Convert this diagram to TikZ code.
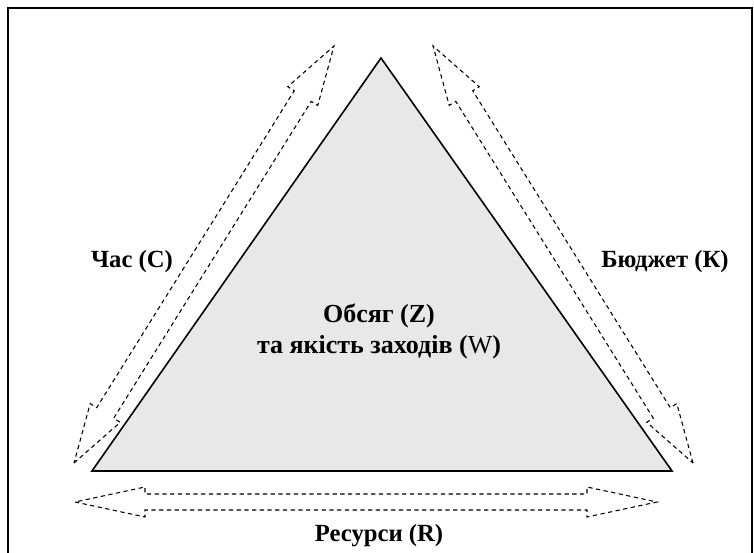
\documentclass[tikz,border=0pt]{standalone}
\usepackage{fontspec}
\setmainfont{Liberation Serif}
\begin{document}
\begin{tikzpicture}[x=0.75pt,y=0.75pt,
  frameline/.style={line width=1.5pt},
  trianglebody/.style={draw=black,line width=1.2pt,fill=black!9,line join=miter},
  arrowline/.style={draw=black,line width=0.8pt,dash pattern=on 3.2pt off 2.6pt},
  lbl/.style={font=\bfseries\fontsize{18.5}{23}\selectfont,inner sep=0pt,anchor=base},
  biglbl/.style={font=\bfseries\fontsize{19.5}{23.5}\selectfont,inner sep=0pt,anchor=base},
  pics/dblarrow/.style args={#1/#2/#3/#4}{code={
    \path[arrowline] (0,0) -- (#3,-#2) -- (#3,-#1) -- ({#4-#3},-#1) -- ({#4-#3},-#2)
      -- (#4,0) -- ({#4-#3},#2) -- ({#4-#3},#1) -- (#3,#1) -- (#3,#2) -- cycle;
  }}]
\useasboundingbox (0,0) rectangle (754,553);
% outer frame
\draw[frameline] (8,-10) rectangle (752,545);
% triangle
\coordinate (apex) at (381,495);
\coordinate (bl) at (92,82);
\coordinate (br) at (672,82);
\path[trianglebody] (apex) -- (bl) -- (br) -- cycle;
% tips of the block arrows
\coordinate (timeA) at (74,90);
\coordinate (budA) at (693,90);
\coordinate (resA) at (75,51);
\pic[rotate=58.06] at (timeA) {dblarrow=10/17.7/59/491.4};
\pic[rotate=121.94] at (budA) {dblarrow=10/17.7/59/491.4};
\pic at (resA) {dblarrow=8/15/70/582};
% labels
\node[lbl] (time) at (132,285) {Час (С)};
\node[lbl] (budget) at (665,285) {Бюджет (К)};
\node[biglbl,align=center] (scope) at (379,199) {Обсяг (Z)\\та якість заходів (\textmd{W})};
\node[lbl] (res) at (379,11) {Ресурси (R)};
\end{tikzpicture}
\end{document}
